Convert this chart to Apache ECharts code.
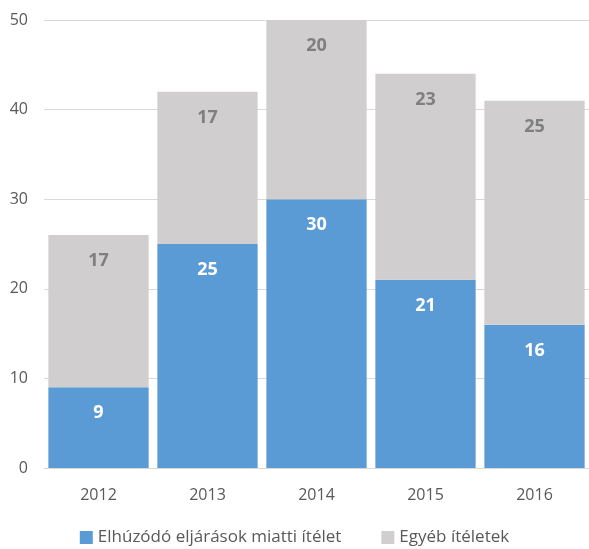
<!DOCTYPE html>
<html>
<head>
<meta charset="utf-8">
<script src="https://cdn.jsdelivr.net/npm/echarts@6/dist/echarts.min.js"></script>
<style>
  html, body { margin: 0; padding: 0; background: #fff; }
  #container { width: 589px; height: 549px; }
</style>
</head>
<body>
<div id="container"></div>
<script>
const years = ["2012", "2013", "2014", "2015", "2016"];
const delayed = [9, 25, 30, 21, 16];
const other = [17, 17, 20, 23, 25];
const seriesNames = ["Elhúzódó eljárások miatti ítélet", "Egyéb ítéletek"];

const dom = document.getElementById("container");
const myChart = echarts.init(dom, null, { renderer: "canvas" });

const font = "'Open Sans', 'Noto Sans', sans-serif";

const option = {
  animation: false,
  textStyle: { fontFamily: font },
  grid: { left: 44, right: 0, top: 20, bottom: 81 },
  legend: {
    bottom: -2,
    left: "center",
    itemWidth: 13,
    itemHeight: 13,
    itemGap: 40,
    icon: "rect",
    textStyle: { fontSize: 17, color: "#595959", fontFamily: font },
    data: seriesNames,
  },
  xAxis: {
    type: "category",
    data: years,
    axisLine: { lineStyle: { color: "#D9D9D9" } },
    axisTick: { show: false },
    axisLabel: { fontSize: 16, color: "#595959", margin: 19 },
  },
  yAxis: {
    type: "value",
    min: 0,
    max: 50,
    interval: 10,
    axisLine: { show: false },
    axisTick: { show: false },
    axisLabel: { fontSize: 16, color: "#595959", margin: 16 },
    splitLine: { lineStyle: { color: "#D9D9D9" } },
  },
  series: [
    {
      name: seriesNames[0],
      type: "bar",
      stack: "total",
      data: delayed,
      barCategoryGap: "8%",
      itemStyle: { color: "#5B9BD5" },
      label: {
        show: true,
        position: "insideTop",
        distance: 17,
        color: "#fff",
        fontWeight: "bold",
        fontSize: 18,
      },
    },
    {
      name: seriesNames[1],
      type: "bar",
      stack: "total",
      data: other,
      barCategoryGap: "8%",
      itemStyle: { color: "#D0CECE" },
      label: {
        show: true,
        position: "insideTop",
        distance: 17,
        color: "#7F7F7F",
        fontWeight: "bold",
        fontSize: 18,
      },
    },
  ],
};

myChart.setOption(option);
</script>
</body>
</html>
